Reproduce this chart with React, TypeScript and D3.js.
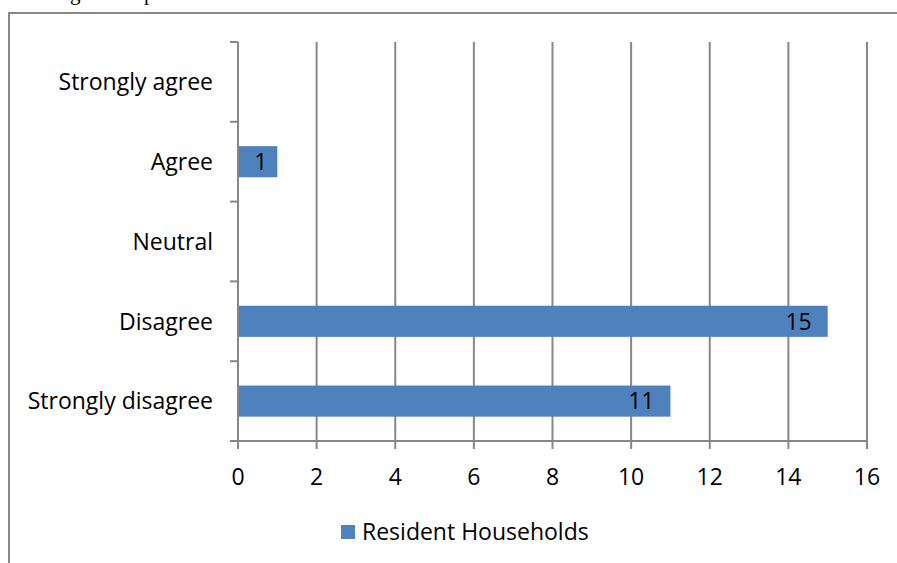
import React from "react";
import * as d3 from "d3";

const categories = ["Strongly agree", "Agree", "Neutral", "Disagree", "Strongly disagree"];
const values = [0, 1, 0, 15, 11];
const xTicks = [0, 2, 4, 6, 8, 10, 12, 14, 16];
const seriesName = "Resident Households";
const topText = "and in figure 3.5 provides more details.";

const W = 897;
const H = 563;
const left = 238;
const right = 867;
const top = 42;
const bottom = 441;
const gridColor = "#878787";
const barColor = "#4F81BD";
const font = "'Open Sans', 'Noto Sans', sans-serif";
const fs = 23;

export default function App() {
  const x = d3.scaleLinear().domain([0, 16]).range([left, right]);
  const y = d3.scaleBand<string>().domain(categories).range([top, bottom]).paddingInner(0.61).paddingOuter(0.305);
  const band = d3.scaleBand<string>().domain(categories).range([top, bottom]);
  const catTicks = [top, ...categories.map((c) => (band(c) as number) + band.bandwidth())];

  return (
    <svg width={W} height={H} style={{ position: "absolute", left: 0, top: 0, background: "#fff" }}>
      <text x={0} y={0} fontFamily="'Liberation Serif', serif" fontSize={21} fill="#000">{topText}</text>
      <rect x={9} y={13} width={1000} height={1000} fill="#fff" stroke={gridColor} strokeWidth={2} />
      {xTicks.map((t) => (
        <line key={"g" + t} x1={x(t)} x2={x(t)} y1={top} y2={bottom + 8} stroke={gridColor} strokeWidth={2} />
      ))}
      {catTicks.map((t, i) => (
        <line key={"c" + i} x1={left - 8} x2={left} y1={t} y2={t} stroke={gridColor} strokeWidth={2} />
      ))}
      <line x1={left - 8} x2={right} y1={bottom} y2={bottom} stroke={gridColor} strokeWidth={2} />
      {categories.map((c, i) =>
        values[i] > 0 ? (
          <rect key={"b" + c} x={x(0)} y={y(c)} width={x(values[i]) - x(0)} height={y.bandwidth()} fill={barColor} />
        ) : null
      )}
      {categories.map((c, i) =>
        values[i] > 0 ? (
          <text key={"v" + c} x={x(values[i]) - (values[i] < 10 ? 10 : 16)} y={(y(c) as number) + y.bandwidth() / 2} dy="0.36em"
            textAnchor="end" fontFamily={font} fontSize={fs} fill="#000">{values[i]}</text>
        ) : null
      )}
      <line x1={left} x2={left} y1={top} y2={bottom + 8} stroke={gridColor} strokeWidth={2} />
      {categories.map((c) => (
        <text key={"l" + c} x={213} y={(band(c) as number) + band.bandwidth() / 2} dy="0.36em" textAnchor="end"
          fontFamily={font} fontSize={fs} fill="#000">{c}</text>
      ))}
      {xTicks.map((t) => (
        <text key={"t" + t} x={x(t)} y={477} dy="0.36em" textAnchor="middle" fontFamily={font} fontSize={fs} fill="#000">{t}</text>
      ))}
      <rect x={341} y={525} width={14} height={14} fill={barColor} />
      <text x={362} y={532} dy="0.36em" fontFamily={font} fontSize={fs} fill="#000">{seriesName}</text>
    </svg>
  );
}
